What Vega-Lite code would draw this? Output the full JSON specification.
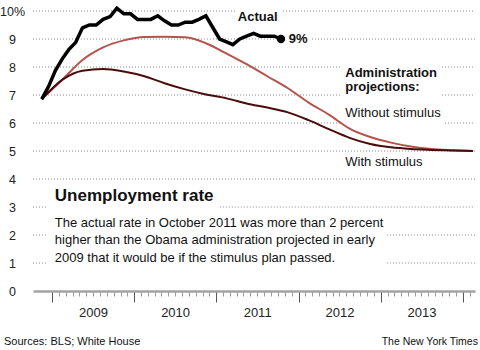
{
  "$schema": "https://vega.github.io/schema/vega-lite/v6.json",
  "width": 442,
  "height": 280,
  "autosize": "none",
  "padding": {"left": 33, "top": 11, "right": 5, "bottom": 59},
  "background": "white",
  "config": {"view": {"stroke": null}, "font": "Liberation Sans", "text": {"font": "Liberation Sans"}},
  "resolve": {"axis": {"y": "independent"}},
  "datasets": {
    "grid": [
      {"v": 10, "a": "2008-10-07", "b": "2011-03-24"},
      {"v": 10, "a": "2011-10-24", "b": "2014-02-24"},
      {"v": 9, "a": "2008-10-07", "b": "2011-10-15"},
      {"v": 9, "a": "2012-03-01", "b": "2014-02-24"},
      {"v": 8, "a": "2008-10-07", "b": "2012-07-03"},
      {"v": 8, "a": "2013-09-30", "b": "2014-02-24"},
      {"v": 7, "a": "2008-10-07", "b": "2012-07-03"},
      {"v": 7, "a": "2013-09-30", "b": "2014-02-24"},
      {"v": 6, "a": "2008-10-07", "b": "2012-07-03"},
      {"v": 6, "a": "2013-10-13", "b": "2014-02-24"},
      {"v": 5, "a": "2008-10-07", "b": "2014-02-24"},
      {"v": 4, "a": "2008-10-07", "b": "2014-02-24"},
      {"v": 3, "a": "2008-10-07", "b": "2008-12-12"},
      {"v": 3, "a": "2011-01-16", "b": "2014-02-24"},
      {"v": 2, "a": "2008-10-07", "b": "2008-12-12"},
      {"v": 2, "a": "2013-01-28", "b": "2014-02-24"},
      {"v": 1, "a": "2008-10-07", "b": "2008-12-12"},
      {"v": 1, "a": "2013-01-28", "b": "2014-02-24"}
    ],
    "actual": [
      {"date": "2008-11-15", "value": 6.85},
      {"date": "2008-12-15", "value": 7.3},
      {"date": "2009-01-15", "value": 7.88},
      {"date": "2009-02-15", "value": 8.3},
      {"date": "2009-03-15", "value": 8.62},
      {"date": "2009-04-15", "value": 8.88},
      {"date": "2009-05-15", "value": 9.4},
      {"date": "2009-06-15", "value": 9.5},
      {"date": "2009-07-15", "value": 9.5},
      {"date": "2009-08-15", "value": 9.7},
      {"date": "2009-09-15", "value": 9.8},
      {"date": "2009-10-15", "value": 10.1},
      {"date": "2009-11-15", "value": 9.9},
      {"date": "2009-12-15", "value": 9.9},
      {"date": "2010-01-15", "value": 9.7},
      {"date": "2010-02-15", "value": 9.7},
      {"date": "2010-03-15", "value": 9.7},
      {"date": "2010-04-15", "value": 9.83},
      {"date": "2010-05-15", "value": 9.65},
      {"date": "2010-06-15", "value": 9.5},
      {"date": "2010-07-15", "value": 9.5},
      {"date": "2010-08-15", "value": 9.6},
      {"date": "2010-09-15", "value": 9.6},
      {"date": "2010-10-15", "value": 9.7},
      {"date": "2010-11-15", "value": 9.83},
      {"date": "2010-12-15", "value": 9.42},
      {"date": "2011-01-15", "value": 9.0},
      {"date": "2011-02-15", "value": 8.9},
      {"date": "2011-03-15", "value": 8.8},
      {"date": "2011-04-15", "value": 9.0},
      {"date": "2011-05-15", "value": 9.1},
      {"date": "2011-06-15", "value": 9.2},
      {"date": "2011-07-15", "value": 9.1},
      {"date": "2011-08-15", "value": 9.1},
      {"date": "2011-09-15", "value": 9.1},
      {"date": "2011-10-15", "value": 9.0}
    ],
    "endpoint": [
      {"date": "2011-10-15", "value": 9.0}
    ],
    "projections": [
      {"s": "Without stimulus", "date": "2008-11-15", "value": 6.85},
      {"s": "Without stimulus", "date": "2009-02-15", "value": 7.55},
      {"s": "Without stimulus", "date": "2009-05-15", "value": 8.25},
      {"s": "Without stimulus", "date": "2009-08-15", "value": 8.7},
      {"s": "Without stimulus", "date": "2009-11-15", "value": 8.95},
      {"s": "Without stimulus", "date": "2010-02-15", "value": 9.07},
      {"s": "Without stimulus", "date": "2010-05-15", "value": 9.08},
      {"s": "Without stimulus", "date": "2010-08-15", "value": 9.06},
      {"s": "Without stimulus", "date": "2010-11-15", "value": 8.85},
      {"s": "Without stimulus", "date": "2011-02-15", "value": 8.48},
      {"s": "Without stimulus", "date": "2011-05-15", "value": 8.1},
      {"s": "Without stimulus", "date": "2011-08-15", "value": 7.67},
      {"s": "Without stimulus", "date": "2011-11-15", "value": 7.24},
      {"s": "Without stimulus", "date": "2012-02-15", "value": 6.73},
      {"s": "Without stimulus", "date": "2012-05-15", "value": 6.3},
      {"s": "Without stimulus", "date": "2012-08-15", "value": 5.8},
      {"s": "Without stimulus", "date": "2012-11-15", "value": 5.5},
      {"s": "Without stimulus", "date": "2013-02-15", "value": 5.3},
      {"s": "Without stimulus", "date": "2013-05-15", "value": 5.16},
      {"s": "Without stimulus", "date": "2013-08-15", "value": 5.07},
      {"s": "Without stimulus", "date": "2013-11-15", "value": 5.03},
      {"s": "Without stimulus", "date": "2014-02-15", "value": 5.0},
      {"s": "With stimulus", "date": "2008-11-15", "value": 6.85},
      {"s": "With stimulus", "date": "2009-02-15", "value": 7.55},
      {"s": "With stimulus", "date": "2009-05-15", "value": 7.87},
      {"s": "With stimulus", "date": "2009-08-15", "value": 7.93},
      {"s": "With stimulus", "date": "2009-11-15", "value": 7.84},
      {"s": "With stimulus", "date": "2010-02-15", "value": 7.67},
      {"s": "With stimulus", "date": "2010-05-15", "value": 7.42},
      {"s": "With stimulus", "date": "2010-08-15", "value": 7.2},
      {"s": "With stimulus", "date": "2010-11-15", "value": 7.02},
      {"s": "With stimulus", "date": "2011-02-15", "value": 6.88},
      {"s": "With stimulus", "date": "2011-05-15", "value": 6.7},
      {"s": "With stimulus", "date": "2011-08-15", "value": 6.55},
      {"s": "With stimulus", "date": "2011-11-15", "value": 6.38},
      {"s": "With stimulus", "date": "2012-02-15", "value": 6.1},
      {"s": "With stimulus", "date": "2012-05-15", "value": 5.78},
      {"s": "With stimulus", "date": "2012-08-15", "value": 5.47},
      {"s": "With stimulus", "date": "2012-11-15", "value": 5.25},
      {"s": "With stimulus", "date": "2013-02-15", "value": 5.13},
      {"s": "With stimulus", "date": "2013-05-15", "value": 5.07},
      {"s": "With stimulus", "date": "2013-08-15", "value": 5.04},
      {"s": "With stimulus", "date": "2013-11-15", "value": 5.02},
      {"s": "With stimulus", "date": "2014-02-15", "value": 5.0}
    ],
    "labels": [
      {"g": "bold", "date": "2011-04-06", "value": 9.64, "text": "Actual"},
      {"g": "bold", "date": "2011-11-19", "value": 8.85, "text": "9%"},
      {"g": "bold", "date": "2012-07-27", "value": 7.63, "text": "Administration"},
      {"g": "bold", "date": "2012-07-27", "value": 7.14, "text": "projections:"},
      {"g": "plain", "date": "2012-07-27", "value": 6.21, "text": "Without stimulus"},
      {"g": "plain", "date": "2012-07-27", "value": 4.475, "text": "With stimulus"},
      {"g": "plain", "date": "2009-01-12", "value": 2.286, "text": "The actual rate in October 2011 was more than 2 percent"},
      {"g": "plain", "date": "2009-01-12", "value": 1.661, "text": "higher than the Obama administration projected in early"},
      {"g": "plain", "date": "2009-01-12", "value": 1.036, "text": "2009 that it would be if the stimulus plan passed."},
      {"g": "title", "date": "2009-01-12", "value": 3.23, "text": "Unemployment rate"},
      {"g": "source", "date": "2008-05-31", "value": -1.93, "text": "Sources: BLS; White House"},
      {"g": "credit", "date": "2014-03-09", "value": -1.93, "text": "The New York Times"}
    ]
  },
  "layer": [
    {
      "data": {"name": "grid"},
      "mark": {"type": "rule", "strokeDash": [1, 2], "color": "#8a8a8a", "strokeWidth": 1},
      "encoding": {
        "x": {
          "field": "a", "type": "temporal",
          "scale": {"type": "utc", "domain": [{"year": 2008, "month": 10, "date": 7, "utc": true}, {"year": 2014, "month": 2, "date": 24, "utc": true}]},
          "axis": {
            "title": null,
            "tickCount": {"interval": "month", "step": 1},
            "grid": false,
            "domainColor": "#a3a3a3",
            "domainWidth": 2.5,
            "tickSize": {"condition": {"test": "utcmonth(datum.value) == 0", "value": 11}, "value": 5},
            "tickColor": {"condition": {"test": "utcmonth(datum.value) == 0", "value": "#555555"}, "value": "#9a9a9a"},
            "tickOpacity": {"condition": {"test": "datum.value < utc(2009,0,1)", "value": 0}, "value": 1},
            "labelExpr": "utcmonth(datum.value) == 6 ? utcFormat(datum.value, '%Y') : ''",
            "labelOverlap": false,
            "labelBound": false,
            "labelFlush": false,
            "labelFontSize": 13,
            "labelColor": "#222222",
            "labelPadding": 10,
            "labelAlign": "center",
            "labelBaseline": "top"
          }
        },
        "x2": {"field": "b"},
        "y": {
          "field": "v", "type": "quantitative",
          "scale": {"domain": [0, 10], "nice": false},
          "axis": {
            "orient": "left",
            "title": null,
            "values": [0, 1, 2, 3, 4, 5, 6, 7, 8, 9, 10],
            "labelExpr": "datum.value == 10 ? '10%' : format(datum.value, 'd')",
            "labelOverlap": false,
            "labelBound": false,
            "labelFlush": false,
            "ticks": false,
            "domain": false,
            "grid": false,
            "labelAlign": "center",
            "labelBaseline": "middle",
            "labelPadding": 21,
            "labelFontSize": 12.5,
            "labelColor": "#222222"
          }
        }
      }
    },
    {
      "data": {"name": "projections"},
      "mark": {"type": "line", "interpolate": "monotone", "strokeWidth": 2},
      "encoding": {
        "x": {"field": "date", "type": "temporal"},
        "y": {"field": "value", "type": "quantitative", "axis": null},
        "color": {"field": "s", "type": "nominal", "scale": {"domain": ["Without stimulus", "With stimulus"], "range": ["#b4524c", "#4a0b0b"]}, "legend": null}
      }
    },
    {
      "data": {"name": "actual"},
      "mark": {"type": "line", "color": "#000000", "strokeWidth": 3.5},
      "encoding": {
        "x": {"field": "date", "type": "temporal"},
        "y": {"field": "value", "type": "quantitative", "axis": null}
      }
    },
    {
      "data": {"name": "endpoint"},
      "mark": {"type": "circle", "color": "#000000", "opacity": 1, "size": 70},
      "encoding": {
        "x": {"field": "date", "type": "temporal"},
        "y": {"field": "value", "type": "quantitative", "axis": null}
      }
    },
    {
      "data": {"name": "labels"},
      "transform": [{"filter": "datum.g == 'bold'"}],
      "mark": {"type": "text", "align": "left", "baseline": "alphabetic", "fontSize": 13, "fontWeight": "bold", "color": "#111111"},
      "encoding": {
        "x": {"field": "date", "type": "temporal"},
        "y": {"field": "value", "type": "quantitative", "axis": null},
        "text": {"field": "text"}
      }
    },
    {
      "data": {"name": "labels"},
      "transform": [{"filter": "datum.g == 'plain'"}],
      "mark": {"type": "text", "align": "left", "baseline": "alphabetic", "fontSize": 13, "color": "#111111"},
      "encoding": {
        "x": {"field": "date", "type": "temporal"},
        "y": {"field": "value", "type": "quantitative", "axis": null},
        "text": {"field": "text"}
      }
    },
    {
      "data": {"name": "labels"},
      "transform": [{"filter": "datum.g == 'title'"}],
      "mark": {"type": "text", "align": "left", "baseline": "alphabetic", "fontSize": 17, "fontWeight": "bold", "color": "#111111"},
      "encoding": {
        "x": {"field": "date", "type": "temporal"},
        "y": {"field": "value", "type": "quantitative", "axis": null},
        "text": {"field": "text"}
      }
    },
    {
      "data": {"name": "labels"},
      "transform": [{"filter": "datum.g == 'source'"}],
      "mark": {"type": "text", "align": "left", "baseline": "alphabetic", "fontSize": 11, "color": "#111111"},
      "encoding": {
        "x": {"field": "date", "type": "temporal"},
        "y": {"field": "value", "type": "quantitative", "axis": null},
        "text": {"field": "text"}
      }
    },
    {
      "data": {"name": "labels"},
      "transform": [{"filter": "datum.g == 'credit'"}],
      "mark": {"type": "text", "align": "right", "baseline": "alphabetic", "fontSize": 10.5, "color": "#111111"},
      "encoding": {
        "x": {"field": "date", "type": "temporal"},
        "y": {"field": "value", "type": "quantitative", "axis": null},
        "text": {"field": "text"}
      }
    }
  ]
}
